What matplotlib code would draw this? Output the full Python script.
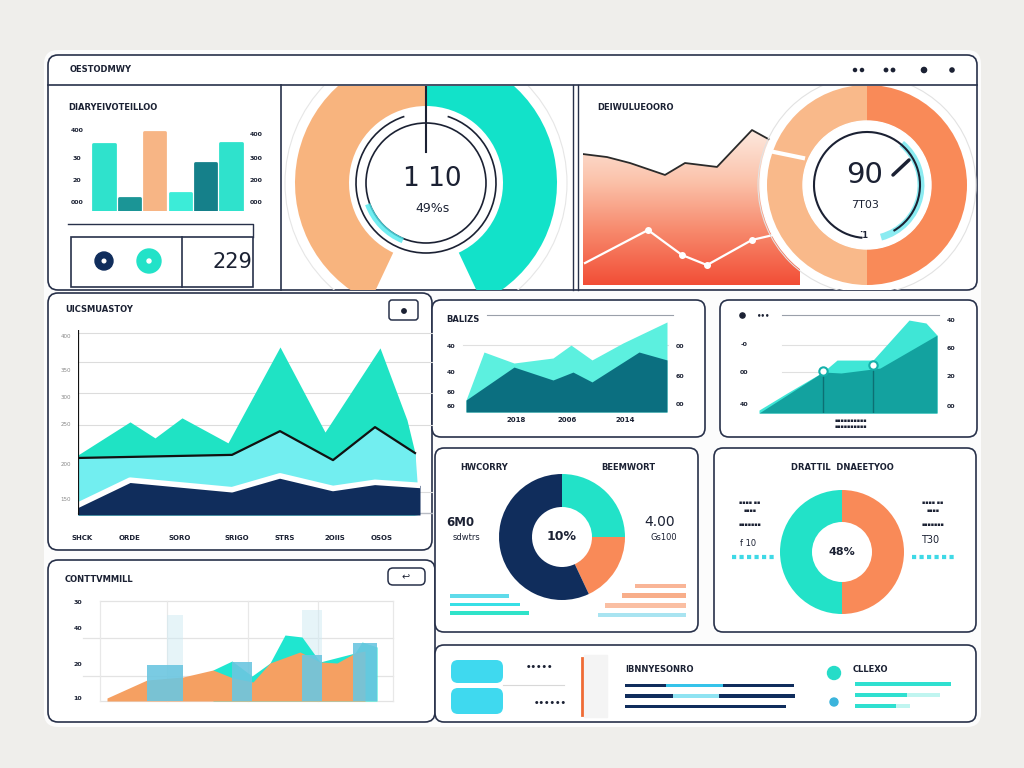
import numpy as np
import matplotlib
matplotlib.use("Agg")
import matplotlib.pyplot as plt
from matplotlib.patches import FancyBboxPatch, Arc, Circle
from matplotlib.colors import LinearSegmentedColormap

W, H = 1024, 768

# ---------------- data ----------------
# top-left KPI bars
kpi_bar_values = [77.6, 15.3, 91.8, 21.2, 55.3, 78.8]
kpi_bar_colors = ["#2fe2cc", "#1b9596", "#f7b585", "#3cecd8", "#15808a", "#2fe2cc"]
kpi_left_ticks = ["400", "30", "20", "000"]
kpi_right_ticks = ["400", "300", "200", "000"]
kpi_value = "229"

# gauge (orange, gap, teal)
gauge_shares = [43, 14, 43]
gauge_main = "1 10"
gauge_sub = "49%s"

# top-right trend area + ring
trend_x = [0, 24, 47, 82, 102, 134, 169, 187, 217]
trend_top = [83.4, 81.5, 77.7, 70.1, 77.7, 75.2, 98.7, 92.4, 86.0]
trend_line_x = [2, 65, 99, 124, 169, 190]
trend_line = [14.0, 35.0, 19.1, 12.7, 28.7, 31.8]
ring_shares = [50, 50]
ring_main = "90"
ring_sub = "7T03"

# middle-left stacked area
flow_peak_x = [0, 52, 77, 104, 150, 202, 247, 302, 329, 337]
flow_peak = [19.5, 30.2, 25.0, 31.5, 23.4, 54.5, 26.9, 54.2, 30.8, 20.1]
flow_mid_x = [0, 154, 202, 255, 297, 337, 339]
flow_mid = [18.5, 19.5, 27.2, 17.8, 28.5, 20.1, 11.0]
flow_base_x = [0, 52, 154, 202, 255, 297, 342]
flow_base = [3.2, 11.3, 8.2, 12.7, 8.6, 10.6, 9.6]
flow_xlabels = ["SHCK", "ORDE", "SORO", "SRIGO", "STRS", "2OIIS", "OSOS"]
flow_xpos = [4, 52, 102, 159, 207, 257, 304]
flow_ylabels = ["400", "350", "300", "250", "200", "150"]
flow_ypos = [58, 47, 38, 29.5, 16.5, 5]

# middle-center sales area
sales_x = [0, 18, 48, 87, 105, 126, 157, 201]
sales_light = [7.4, 37.1, 30.3, 33.4, 41.4, 32.2, 42.7, 55.7]
sales_dark_x = [0, 48, 87, 107, 126, 173, 201]
sales_dark = [7.4, 27.8, 19.8, 24.7, 18.6, 37.1, 32.2]
sales_xlabels = ["2018", "2006", "2014"]

# middle-right growth area
growth_x = [0, 28, 64, 78, 114, 150, 167, 178]
growth_light = [1.8, 12.2, 25.1, 32.4, 32.4, 56.9, 55.1, 47.7]
growth_dark_x = [0, 64, 82, 121, 178]
growth_dark = [0, 25.1, 24.5, 27.5, 47.7]
growth_mark_x = [64, 114]
growth_mark = [25.7, 29.5]

# donuts
split_shares = [25, 18, 57]   # teal, orange, navy
split_center = "10%"
half_shares = [50, 50]        # teal, orange
half_center = "48%"
left_bars = [59, 70, 79]
right_bars = [50, 63, 79, 86]

# bottom-left mixed chart
mix_teal_x = [113, 132, 152, 170, 185, 202, 220, 255, 262, 277]
mix_teal = [12.4, 16.0, 10.0, 15.2, 26.4, 25.6, 15.6, 19.2, 23.6, 21.6]
mix_orange_x = [7, 47, 83, 113, 133, 153, 170, 200, 220, 237, 255, 265]
mix_orange = [1.2, 8.4, 9.6, 12.4, 9.2, 7.6, 15.2, 19.6, 15.6, 15.2, 19.2, 20.0]
mix_bar_x = [65, 142, 212, 265]
mix_bar_w = [36, 20, 20, 24]
mix_bar = [14.4, 15.6, 18.4, 23.2]
mix_ghost_x = [75, 212]
mix_ghost_w = [16, 20]
mix_ghost = [34.4, 36.4]
mix_ylabels = ["30", "40", "20", "10"]

# bottom-right progress
prog_track = [169, 170, 161]
prog_hi_start = [41, 48]
prog_hi_len = [57, 46]
teal_bars = [96, 52, 41]
teal_fade = [96, 85, 55]

# ---------------- colours ----------------
FRAME = "#28314a"
DARK = "#1b2133"
TEAL = "#22e2c8"
NAVY = "#102d5c"
ORANGE = "#f98a58"
LORANGE = "#f8b47e"

fig = plt.figure(figsize=(10.24, 7.68), dpi=100)
fig.patch.set_facecolor("#efeeeb")


def px_ax(x0, y0, x1, y1, z=4):
    ax = fig.add_axes([x0 / W, 1 - y1 / H, (x1 - x0) / W, (y1 - y0) / H], zorder=z)
    ax.set_facecolor("none")
    return ax


def clip_all(ax):
    for p in ax.patches:
        p.set_clip_on(True)
        p.set_clip_box(ax.bbox)
    for ln in ax.lines:
        ln.set_clip_on(True)
        ln.set_clip_box(ax.bbox)


bg = fig.add_axes([0, 0, 1, 1], zorder=0)
bg.set_xlim(0, W); bg.set_ylim(H, 0); bg.axis("off")
top = fig.add_axes([0, 0, 1, 1], zorder=20)
top.set_xlim(0, W); top.set_ylim(H, 0); top.axis("off")


def rbox(x0, y0, x1, y1, r=9, fc="white", ec=FRAME, lw=1.2, z=1, ax=None):
    p = FancyBboxPatch((x0, y0), x1 - x0, y1 - y0,
                       boxstyle=f"round,pad=0,rounding_size={r}",
                       fc=fc, ec=ec, lw=lw, zorder=z)
    (ax or bg).add_patch(p)


def txt(x, y, s, fs=6, w="bold", c=DARK, ha="left", **kw):
    top.text(x, y, s, fontsize=fs, fontweight=w, color=c, ha=ha, va="center", **kw)


# ---------------- frames ----------------
rbox(44, 50, 981, 727, r=14, fc="#fcfcfc", ec="none", z=0.5)
rbox(48, 55, 977, 290, r=10)
bg.plot([48, 977], [85, 85], color=FRAME, lw=1.2, zorder=2)
bg.plot([281, 281], [85, 290], color=FRAME, lw=1.2, zorder=2)
bg.plot([573, 573], [85, 290], color=FRAME, lw=1.0, zorder=2)
bg.plot([578, 578], [85, 290], color=FRAME, lw=1.0, zorder=2)
rbox(48, 293, 432, 550, r=10)
rbox(48, 560, 435, 722, r=10)
rbox(432, 300, 705, 437, r=9)
rbox(720, 300, 977, 437, r=9)
rbox(435, 448, 698, 632, r=9)
rbox(714, 448, 976, 632, r=9)
rbox(435, 645, 976, 722, r=9)

# header
txt(70, 70, "OESTODMWY", fs=6)
top.scatter([855, 862, 886, 893, 924, 952], [70] * 6,
            s=[5, 5, 6, 6, 14, 9], color=DARK, zorder=5)

# ---------------- top-left KPI ----------------
txt(68, 107, "DIARYEIVOTEILLOO", fs=6)
for s, y in zip(kpi_left_ticks, [130, 159, 180, 203]):
    txt(77, y, s, fs=4.5, ha="center")
for s, y in zip(kpi_right_ticks, [135, 158, 180, 203]):
    txt(256, y, s, fs=4.5, ha="center")
axb = px_ax(85, 125, 250, 211)
axb.bar(range(len(kpi_bar_values)), kpi_bar_values, width=0.84,
        color=kpi_bar_colors, edgecolor=kpi_bar_colors, linewidth=2, joinstyle="round")
axb.set_xlim(-0.75, 5.75); axb.set_ylim(0, 100); axb.axis("off")

bg.plot([68, 253, 253], [224, 224, 237], color=FRAME, lw=1.0, zorder=2)
bg.add_patch(plt.Rectangle((71, 237), 182, 50, fc="white", ec=FRAME, lw=1.2, zorder=2))
bg.plot([182, 182], [237, 287], color=FRAME, lw=1.2, zorder=3)
bg.add_patch(Circle((104, 261), 9, color=NAVY, zorder=3))
bg.add_patch(Circle((104, 261), 1.8, color="white", zorder=4))
bg.add_patch(Circle((149, 261), 12, color=TEAL, zorder=3))
bg.add_patch(Circle((149, 261), 2, color="white", zorder=4))
txt(213, 262, kpi_value, fs=15, w="normal")

# ---------------- gauge ----------------
axg = px_ax(282, 86, 572, 290, z=5)
cx, cy = 426, H - 183
axg.pie(gauge_shares, colors=[LORANGE, "none", "#12e2c9"], startangle=90,
        counterclock=True, radius=131, center=(cx, cy),
        wedgeprops=dict(width=54, linewidth=0))
axg.add_patch(Circle((cx, cy), 141, fill=False, ec="#e6e6e6", lw=0.8))
axg.add_patch(Arc((cx, cy), 140, 140, theta1=108, theta2=432, ec=DARK, lw=1.2))
axg.add_patch(Arc((cx, cy), 120, 120, theta1=0, theta2=360, ec=DARK, lw=1.2))
axg.add_patch(Arc((cx, cy), 124, 124, theta1=200, theta2=248, ec="#4fe9ee", lw=4, alpha=0.8))
axg.plot([cx, cx], [H - 85, H - 152], color=DARK, lw=1.5)
axg.set_xlim(282, 572); axg.set_ylim(H - 290, H - 86); axg.set_aspect("auto"); axg.axis("off")
clip_all(axg)
txt(432, 179, gauge_main, fs=19, w="normal", ha="center")
txt(433, 208, gauge_sub, fs=9, w="normal", ha="center")

# ---------------- top-right trend ----------------
txt(597, 107, "DEIWULUEOORO", fs=6)
axt = px_ax(583, 128, 800, 285, z=4)
poly = axt.fill_between(trend_x, trend_top, 0, color="none")
warm = LinearSegmentedColormap.from_list("warm", ["#f24e36", "#f7876a", "#fbc3ab", "#fdeae0"])
grad = np.linspace(0, 1, 256).reshape(-1, 1)
im = axt.imshow(grad, extent=[0, 217, 0, 100], origin="lower", cmap=warm, aspect="auto")
im.set_clip_path(poly.get_paths()[0], transform=axt.transData)
axt.plot(trend_x, trend_top, color="#2a2a2a", lw=1.3)
axt.plot(trend_line_x, trend_line, color="white", lw=1.6)
axt.plot(trend_line_x[1:5], trend_line[1:5], "o", color="white", ms=4)
axt.set_xlim(0, 217); axt.set_ylim(0, 100); axt.axis("off")

axr = px_ax(755, 86, 977, 290, z=6)
rcx, rcy = 867, H - 185
axr.add_patch(Circle((rcx, rcy), 107, color="white"))
axr.pie(ring_shares, colors=["#f9b98a", ORANGE], startangle=90, counterclock=True,
        radius=100, center=(rcx, rcy), wedgeprops=dict(width=36, linewidth=0))
axr.add_patch(Circle((rcx, rcy), 64, color="white"))
axr.add_patch(Circle((rcx, rcy), 109, fill=False, ec="#e2e2e2", lw=0.8))
axr.plot([774, 803], [H - 152, H - 158], color="white", lw=3)
axr.add_patch(Arc((rcx, rcy), 108, 108, theta1=-75, theta2=50, ec="#6ee6ee", lw=5, alpha=0.8))
axr.add_patch(Arc((rcx, rcy), 106, 106, theta1=-60, theta2=265, ec=DARK, lw=1.5))
axr.plot([893, 909], [H - 175, H - 160], color=DARK, lw=2.5, solid_capstyle="round")
axr.set_xlim(755, 977); axr.set_ylim(H - 290, H - 86); axr.set_aspect("auto"); axr.axis("off")
clip_all(axr)
txt(865, 175, ring_main, fs=21, w="normal", ha="center")
txt(865, 205, ring_sub, fs=8, w="normal", ha="center")
txt(864, 235, "⁚1", fs=6, ha="center")

# ---------------- middle-left stacked area ----------------
txt(65, 310, "UICSMUASTOY", fs=6)
rbox(389, 300, 418, 320, r=3, lw=1.1, z=3)
bg.add_patch(Circle((404, 311), 2.2, color=DARK, zorder=4))
for y in [333, 362, 393, 425, 492]:
    bg.plot([78, 432], [y, y], color="#dcdcdc", lw=0.8, zorder=2)
bg.plot([78, 432], [513, 513], color="#b8bcc4", lw=1.0, zorder=2)
axf = px_ax(78, 330, 420, 515, z=4)
axf.fill_between(flow_peak_x, flow_peak, color="#1fe3c4", lw=0)
axf.fill_between(flow_mid_x, flow_mid, color="#72eef0", lw=0)
axf.fill_between(flow_base_x, flow_base, color=NAVY, lw=0)
axf.plot(flow_base_x, flow_base, color="white", lw=4)
axf.plot(flow_mid_x[:-1], flow_mid[:-1], color="#111111", lw=1.6)
for s, xp in zip(flow_xlabels, flow_xpos):
    axf.text(xp, -7.5, s, fontsize=5, fontweight="bold", color=DARK, ha="center", va="center")
for s, yp in zip(flow_ylabels, flow_ypos):
    axf.text(-12, yp, s, fontsize=4, color="#888888", ha="center", va="center")
axf.plot([0, 0], [0, 60], color="#111111", lw=1.6)
axf.set_xlim(0, 342); axf.set_ylim(0, 60); axf.axis("off")

# ---------------- middle-center sales ----------------
txt(446, 320, "BALIZS", fs=6)
bg.plot([487, 673], [315, 315], color="#9aa0aa", lw=0.8, zorder=2)
bg.plot([463, 668], [345, 345], color="#e0e0e0", lw=0.8, zorder=2)
axs = px_ax(466, 315, 668, 412, z=4)
axs.fill_between(sales_x, sales_light, color="#5cf0df", lw=0)
axs.fill_between(sales_dark_x, sales_dark, color="#0b6f80", lw=0)
for s, xp in zip(sales_xlabels, [50, 101, 159]):
    axs.text(xp, -5, s, fontsize=5, fontweight="bold", color=DARK, ha="center", va="center")
axs.set_xlim(0, 202); axs.set_ylim(0, 60); axs.axis("off")
for s, y in zip(["40", "40", "60", "60"], [347, 373, 393, 407]):
    txt(451, y, s, fs=4.5, ha="center")
for s, y in zip(["00", "60", "00"], [346, 377, 404]):
    txt(680, y, s, fs=4.5, ha="center")

# ---------------- middle-right growth ----------------
top.scatter([742], [315], s=14, color=DARK)
txt(757, 315, "•••", fs=5)
bg.plot([782, 939], [315, 315], color="#9aa0aa", lw=0.8, zorder=2)
bg.plot([782, 891], [345, 345], color="#e0e0e0", lw=0.8, zorder=2)
bg.plot([782, 870], [372, 372], color="#e0e0e0", lw=0.8, zorder=2)
axm = px_ax(759, 315, 940, 413, z=4)
axm.fill_between(growth_x, growth_light, color="#3fe6d6", lw=0)
axm.fill_between(growth_dark_x, growth_dark, color="#13a29f", lw=0)
axm.vlines(growth_mark_x, 0, growth_mark, color="#0d6f73", lw=1.0)
axm.plot(growth_mark_x, growth_mark, "o", ms=6, mfc="white", mec="#14b0aa", mew=1.5)
axm.set_xlim(0, 181); axm.set_ylim(0, 60); axm.axis("off")
for s, y in zip(["-0", "00", "40"], [345, 372, 404]):
    txt(744, y, s, fs=4.5, ha="center")
for s, y in zip(["40", "60", "20", "00"], [320, 348, 377, 406]):
    txt(951, y, s, fs=4.5, ha="center")
txt(851, 420, "▪▪▪▪▪▪▪▪▪▪", fs=3.5, ha="center")
txt(851, 426, "▪▪▪▪▪▪▪▪▪▪", fs=3.5, ha="center")

# ---------------- row 3: split donut ----------------
txt(484, 467, "HWCORRY", fs=6, ha="center")
txt(628, 467, "BEEMWORT", fs=6, ha="center")
axd = px_ax(495, 470, 630, 604, z=5)
dcx, dcy = 562, H - 537
axd.pie(split_shares, colors=[TEAL, ORANGE, NAVY], startangle=90, counterclock=False,
        radius=63, center=(dcx, dcy), wedgeprops=dict(width=33, linewidth=0))
axd.set_xlim(495, 630); axd.set_ylim(H - 604, H - 470); axd.set_aspect("auto"); axd.axis("off")
txt(562, 537, split_center, fs=9, ha="center")
txt(460, 522, "6M0", fs=8.5, ha="center")
txt(466, 537, "sdwtrs", fs=6, w="normal", ha="center")
txt(660, 522, "4.00", fs=10, w="normal", ha="center")
txt(664, 537, "Gs100", fs=6, w="normal", ha="center")
axl = px_ax(448, 592, 532, 617, z=4)
axl.barh([0, 1, 2], left_bars, height=0.45, color=["#5fdbea", "#38e0e6", "#2fe3c9"])
axl.set_ylim(2.5, -0.5); axl.set_xlim(-2, 82); axl.axis("off")
axrb = px_ax(596, 581, 686, 620, z=4)
axrb.barh([0, 1, 2, 3], right_bars, height=0.45,
          color=["#f9b597", "#f8ae8a", "#fabfa3", "#a9e4f1"])
axrb.set_ylim(3.5, -0.5); axrb.set_xlim(88, 0); axrb.axis("off")

# ---------------- row 3: half donut ----------------
txt(842, 467, "DRATTIL  DNAEETYOO", fs=6, ha="center")
axh = px_ax(776, 486, 908, 618, z=5)
hcx, hcy = 842, H - 552
axh.pie(half_shares, colors=[TEAL, ORANGE], startangle=90, counterclock=True,
        radius=62, center=(hcx, hcy), wedgeprops=dict(width=32, linewidth=0))
axh.set_xlim(776, 908); axh.set_ylim(H - 618, H - 486); axh.set_aspect("auto"); axh.axis("off")
txt(842, 552, half_center, fs=8, ha="center")
for xc in [750, 933]:
    txt(xc, 502, "▪▪▪▪ ▪▪", fs=3.5, ha="center")
    txt(xc, 511, "▪▪▪▪", fs=3.5, ha="center")
    txt(xc, 525, "▪▪▪▪▪▪▪", fs=3.5, ha="center")
txt(748, 544, "f 10", fs=6, w="normal", ha="center")
txt(930, 540, "T30", fs=7, w="normal", ha="center")
bg.plot([732, 776], [557, 557], color="#3fd9e6", lw=3, ls=(0, (1, 0.8)), zorder=3)
bg.plot([912, 955], [557, 557], color="#3fd9e6", lw=3, ls=(0, (1, 0.8)), zorder=3)

# ---------------- bottom-left mixed ----------------
txt(65, 580, "CONTTVMMILL", fs=6)
rbox(388, 568, 425, 585, r=5, lw=1.1, z=3)
txt(406, 577, "↩", fs=7, w="normal", ha="center")
for y, xa in zip([601, 638, 676, 701], [100, 83, 83, 100]):
    bg.plot([xa, 393], [y, y], color="#e3e3e3", lw=0.9, zorder=2)
for x in [100, 167, 248, 318, 393]:
    bg.plot([x, x], [601, 701], color="#e8e8e8", lw=0.9, zorder=2)
for s, y in zip(mix_ylabels, [602, 629, 665, 698]):
    txt(78, y, s, fs=4.5, ha="center")
axc = px_ax(100, 601, 393, 701, z=4)
axc.bar(mix_ghost_x, mix_ghost, width=mix_ghost_w, color="#cfeaf3", alpha=0.5, lw=0)
axc.fill_between(mix_teal_x, mix_teal, color="#1fe6d0", lw=0)
axc.fill_between(mix_orange_x, mix_orange, color="#f5a062", lw=0)
axc.bar(mix_bar_x, mix_bar, width=mix_bar_w, color="#6cc6e0", alpha=0.9, lw=0)
axc.set_xlim(0, 293); axc.set_ylim(0, 40); axc.axis("off")

# ---------------- bottom-right ----------------
rbox(451, 660, 503, 683, r=7, fc="#3fd9ef", ec="none", z=3)
rbox(451, 688, 503, 714, r=7, fc="#3fd9ef", ec="none", z=3)
bg.plot([503, 564], [685, 685], color="#d8d8d8", lw=0.8, zorder=3)
txt(526, 667, "•••••", fs=6)
txt(534, 703, "••••••", fs=6)
bg.add_patch(plt.Rectangle((584, 655), 23, 62, color="#f4f4f4", zorder=2))
bg.plot([582, 582], [658, 715], color="#ef6b35", lw=2, zorder=3)
txt(625, 669, "IBNNYESONRO", fs=6)
axp = px_ax(625, 680, 797, 712, z=4)
axp.barh([0, 1, 2], prog_track, height=0.32, color=NAVY)
axp.barh([0, 1], prog_hi_len, left=prog_hi_start, height=0.32, color=["#35c3ea", "#8fe3f2"])
axp.set_ylim(2.5, -0.5); axp.set_xlim(0, 172); axp.axis("off")
bg.add_patch(Circle((834, 673), 6.5, color="#26dcc8", zorder=3))
bg.add_patch(Circle((834, 702), 4, color="#3bb4dc", zorder=3))
txt(853, 670, "CLLEXO", fs=6)
axq = px_ax(855, 679, 960, 711, z=4)
axq.barh([0, 1, 2], teal_fade, height=0.35, color="#2fe0d0", alpha=0.3)
axq.barh([0, 1, 2], teal_bars, height=0.35, color="#2fe0d0")
axq.set_ylim(2.5, -0.5); axq.set_xlim(0, 105); axq.axis("off")

fig.savefig("out.png", dpi=100, facecolor=fig.get_facecolor())
